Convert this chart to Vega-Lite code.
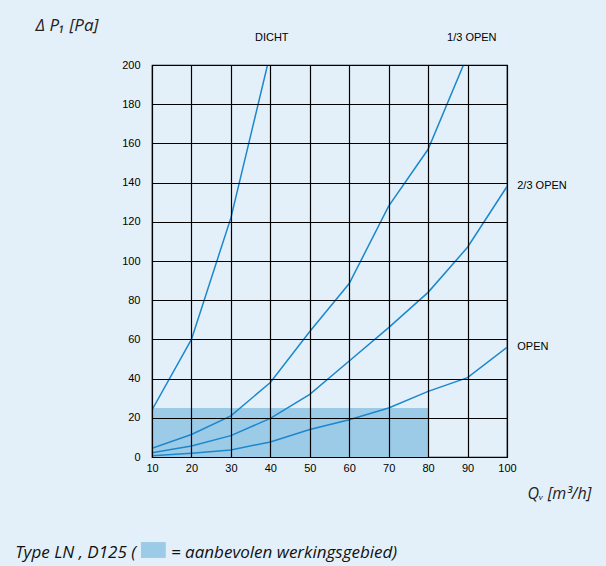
{
  "$schema": "https://vega.github.io/schema/vega-lite/v6.json",
  "width": 355,
  "height": 392,
  "autosize": {"type": "none"},
  "padding": {"left": 152, "top": 65, "right": 99, "bottom": 109},
  "background": "#e4f0f9",
  "config": {"view": {"stroke": "#000000", "strokeWidth": 1.2}, "font": "Liberation Sans"},
  "datasets": {
    "zone": [{"q": 10, "q2": 80, "dp": 0, "dp2": 25}],
    "curves": [
      {"series": "DICHT", "q": 10, "dp": 24},
      {"series": "DICHT", "q": 20, "dp": 60},
      {"series": "DICHT", "q": 30, "dp": 122},
      {"series": "DICHT", "q": 35, "dp": 164},
      {"series": "DICHT", "q": 40, "dp": 206},
      {"series": "1/3 OPEN", "q": 10, "dp": 4.5},
      {"series": "1/3 OPEN", "q": 20, "dp": 11.5},
      {"series": "1/3 OPEN", "q": 30, "dp": 21},
      {"series": "1/3 OPEN", "q": 40, "dp": 38},
      {"series": "1/3 OPEN", "q": 50, "dp": 64},
      {"series": "1/3 OPEN", "q": 60, "dp": 88.5},
      {"series": "1/3 OPEN", "q": 70, "dp": 128},
      {"series": "1/3 OPEN", "q": 80, "dp": 157},
      {"series": "1/3 OPEN", "q": 90, "dp": 205},
      {"series": "2/3 OPEN", "q": 10, "dp": 2.2},
      {"series": "2/3 OPEN", "q": 20, "dp": 5.6},
      {"series": "2/3 OPEN", "q": 30, "dp": 10.9},
      {"series": "2/3 OPEN", "q": 40, "dp": 19.7},
      {"series": "2/3 OPEN", "q": 50, "dp": 32},
      {"series": "2/3 OPEN", "q": 60, "dp": 49},
      {"series": "2/3 OPEN", "q": 70, "dp": 66},
      {"series": "2/3 OPEN", "q": 80, "dp": 84},
      {"series": "2/3 OPEN", "q": 90, "dp": 107},
      {"series": "2/3 OPEN", "q": 100, "dp": 138},
      {"series": "OPEN", "q": 10, "dp": 0.6},
      {"series": "OPEN", "q": 20, "dp": 1.9},
      {"series": "OPEN", "q": 30, "dp": 3.6},
      {"series": "OPEN", "q": 40, "dp": 7.7},
      {"series": "OPEN", "q": 50, "dp": 14},
      {"series": "OPEN", "q": 60, "dp": 19},
      {"series": "OPEN", "q": 70, "dp": 25},
      {"series": "OPEN", "q": 80, "dp": 33.5},
      {"series": "OPEN", "q": 90, "dp": 40.5},
      {"series": "OPEN", "q": 100, "dp": 56}
    ],
    "labels": [
      {"label": "DICHT", "q": 36.1, "dp": 214},
      {"label": "1/3 OPEN", "q": 84.8, "dp": 214},
      {"label": "2/3 OPEN", "q": 102.6, "dp": 138.5},
      {"label": "OPEN", "q": 102.6, "dp": 56}
    ],
    "caption": [
      {"label": "Type LN , D125 (", "q": -24.7, "dp": -51.5},
      {"label": "= aanbevolen werkingsgebied)", "q": 14.8, "dp": -51.5}
    ],
    "legendbox": [{"q": 7.2, "q2": 13.5, "dp": -43.4, "dp2": -51.5}]
  },
  "encoding": {
    "x": {
      "field": "q", "type": "quantitative",
      "scale": {"domain": [10, 100], "nice": false, "zero": false},
      "axis": {
        "values": [10, 20, 30, 40, 50, 60, 70, 80, 90, 100],
        "tickCount": 20,
        "grid": true, "gridColor": "#000000", "gridWidth": 1.2, "gridOpacity": 1,
        "domain": false, "ticks": false, "zindex": 1,
        "labelOverlap": false, "labelBound": false, "labelFlush": false,
        "labelPadding": 5, "labelFontSize": 11, "labelFont": "Liberation Sans", "labelFontWeight": "normal",
        "labelColor": "#000000",
        "title": "Qᵥ [m³/h]", "titleFont": "Open Sans", "titleFontStyle": "italic", "titleFontWeight": "normal",
        "titleFontSize": 16, "titleColor": "#222222", "titleX": 375, "titleY": 41,
        "titleAlign": "left", "titleBaseline": "alphabetic"
      }
    },
    "y": {
      "field": "dp", "type": "quantitative",
      "scale": {"domain": [0, 200], "nice": false},
      "axis": {
        "values": [0, 20, 40, 60, 80, 100, 120, 140, 160, 180, 200],
        "tickCount": 20,
        "grid": true, "gridColor": "#000000", "gridWidth": 1.2, "gridOpacity": 1,
        "domain": false, "ticks": false, "zindex": 1,
        "labelOverlap": false, "labelBound": false, "labelFlush": false,
        "labelPadding": 12, "labelFontSize": 11, "labelFont": "Liberation Sans", "labelFontWeight": "normal",
        "labelColor": "#000000",
        "title": "Δ P₁ [Pa]", "titleFont": "Open Sans", "titleFontStyle": "italic", "titleFontWeight": "normal",
        "titleFontSize": 17, "titleColor": "#222222", "titleAngle": 0, "titleX": -117, "titleY": -35,
        "titleAlign": "left", "titleBaseline": "alphabetic"
      }
    }
  },
  "layer": [
    {
      "data": {"name": "zone"},
      "mark": {"type": "rect", "color": "#9ccbe8"},
      "encoding": {
        "x2": {"field": "q2"},
        "y2": {"field": "dp2"}
      }
    },
    {
      "data": {"name": "curves"},
      "mark": {"type": "line", "clip": true, "color": "#1b87cc", "strokeWidth": 1.5},
      "encoding": {
        "detail": {"field": "series"}
      }
    },
    {
      "data": {"name": "labels"},
      "mark": {"type": "text", "font": "Liberation Sans", "fontSize": 11, "fontWeight": "normal", "color": "#000000", "baseline": "middle", "align": "left"},
      "encoding": {
        "text": {"field": "label"}
      }
    },
    {
      "data": {"name": "legendbox"},
      "mark": {"type": "rect", "color": "#9ccbe8"},
      "encoding": {
        "x2": {"field": "q2"},
        "y2": {"field": "dp2"}
      }
    },
    {
      "data": {"name": "caption"},
      "mark": {"type": "text", "font": "Open Sans", "fontStyle": "italic", "fontSize": 17, "color": "#111111", "align": "left", "baseline": "alphabetic"},
      "encoding": {
        "text": {"field": "label"}
      }
    }
  ]
}
